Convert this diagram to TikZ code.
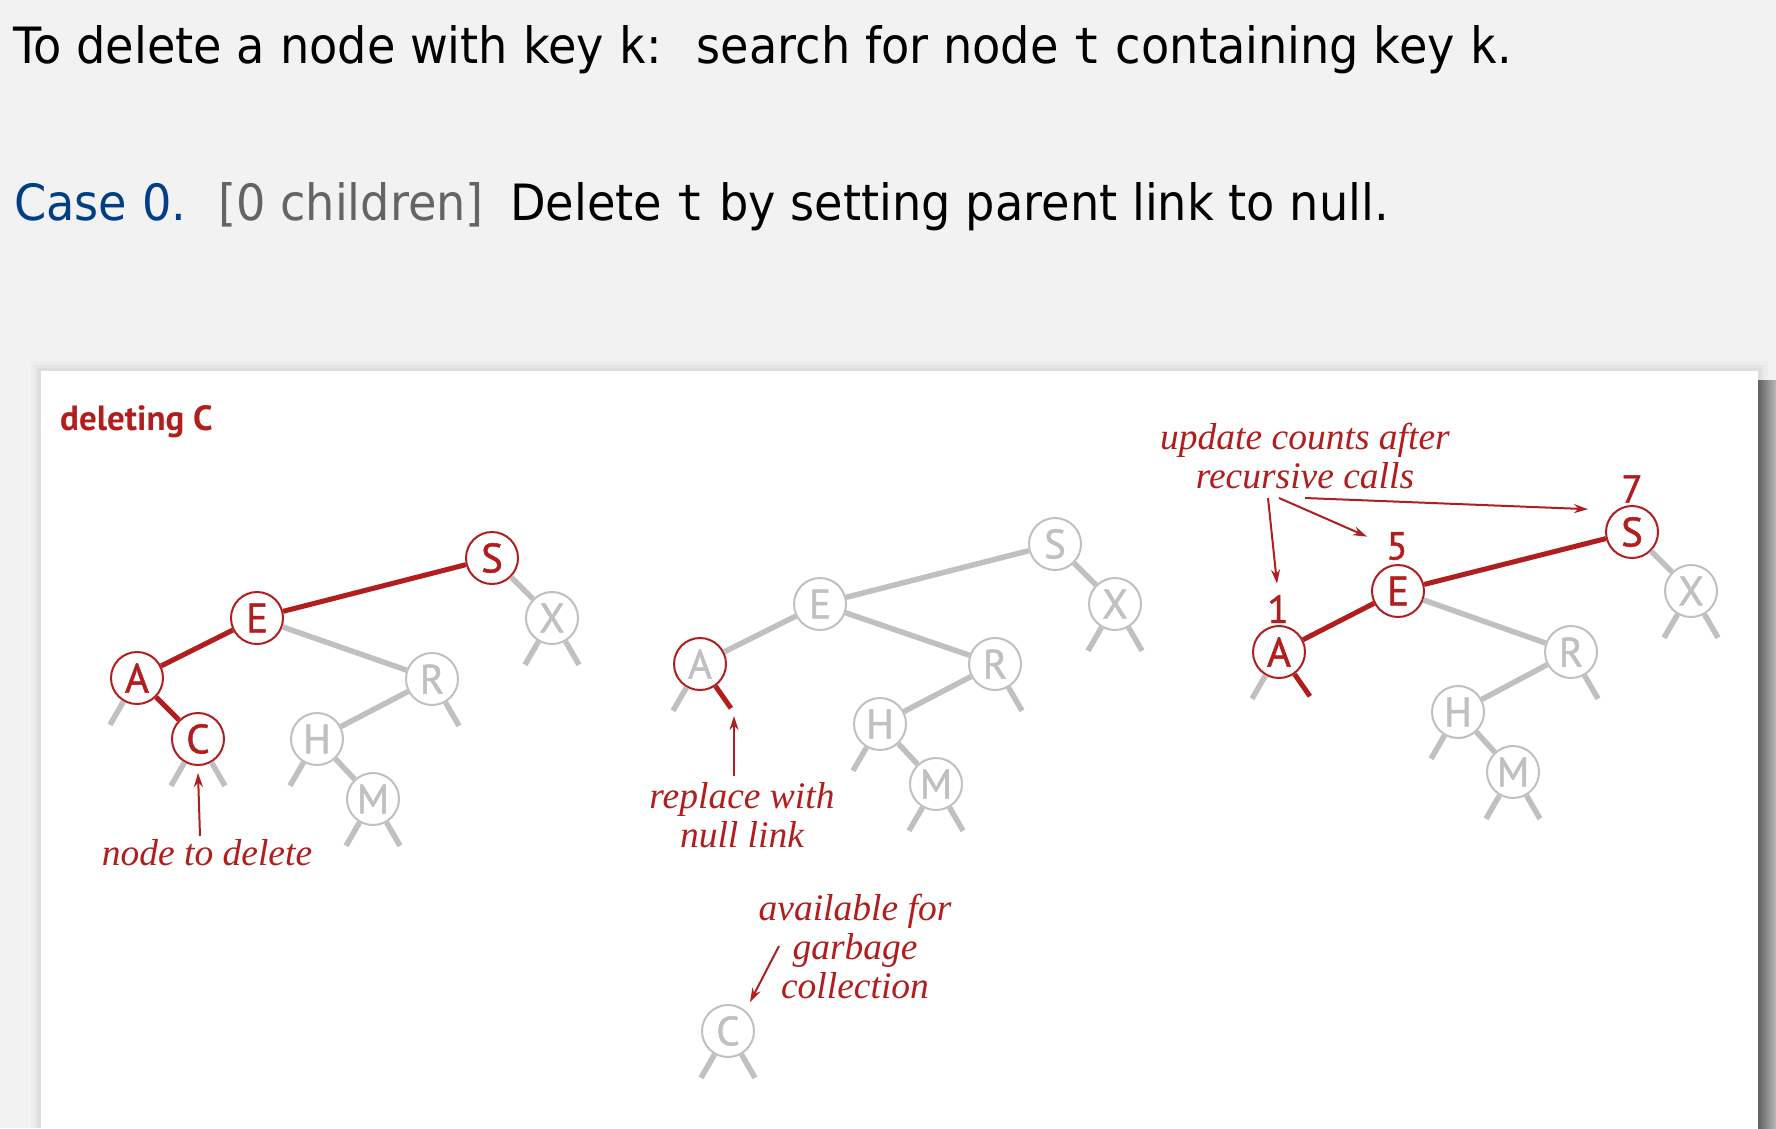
\documentclass[tikz,border=0pt]{standalone}
\usepackage{fontspec}
\usetikzlibrary{arrows.meta,calc}
\newfontfamily\titlefont{DejaVu Sans}[FakeStretch=0.925]
\newfontfamily\titlemono{DejaVu Sans Mono}[FakeStretch=0.925]
\newfontfamily\nodefont{PT Sans}
\newfontfamily\nodeletter{PT Sans}[FakeBold=1.2]
\newfontfamily\annfont{Liberation Serif}
\definecolor{myred}{RGB}{178,30,30}
\definecolor{lgray}{RGB}{192,192,194}
\definecolor{casecol}{RGB}{0,62,135}
\definecolor{brgray}{RGB}{100,100,100}
\definecolor{bgcol}{RGB}{242,242,242}
\tikzset{
  tnode/.style={circle, draw=lgray, text=lgray, fill=white, line width=2pt, minimum size=52pt, inner sep=0pt,
    font=\nodeletter\fontsize{41}{41}\selectfont},
  rnode/.style={tnode, draw=myred, text=myred},
  rcirc/.style={tnode, draw=myred},
  gl/.style={lgray, line width=5.5pt},
  rl/.style={myred, line width=5pt},
  arr/.style={myred, line width=2pt, -{Stealth[length=14pt,width=9pt]}},
  ann/.style={text=myred, align=center, font=\annfont\itshape\fontsize{37.5}{39}\selectfont},
  cnt/.style={text=myred, font=\nodeletter\fontsize{39}{39}\selectfont},
  ttl/.style={anchor=base west, inner sep=0pt, font=\titlefont\fontsize{50}{60}\selectfont}
}
\newcommand{\mk}[1]{{\titlemono #1}}
\begin{document}
\begin{tikzpicture}[x=1pt,y=1pt]
\useasboundingbox (0,0) rectangle (1776,-1128);
\fill[bgcol] (0,0) rectangle (1776,-1128);
% panel shadow
\fill[black,opacity=0.02] (31,-361) rectangle (1768,-1128);
\fill[black,opacity=0.03] (35,-365) rectangle (1764,-1128);
\fill[black,opacity=0.03] (38,-368) rectangle (1761,-1128);
\shade[left color=black!62, right color=black!28] (1758,-380) rectangle (1776,-1128);
\fill[white] (41,-371) rectangle (1758,-1128);

% titles
\node[ttl] (t1) at (13,-63) {To delete a node with key \mk{k}:\hspace{0.3em} search for node \mk{t} containing key \mk{k}.};
\node[ttl, text=casecol] (c0) at (14,-220) {Case 0.};
\node[ttl, text=brgray] (c1) at (218,-220) {[0 children]};
\node[ttl] (c2) at (510,-220) {Delete \mk{t} by setting parent link to null.};

\node[anchor=base west, inner sep=0pt, text=myred, font=\nodefont\bfseries\fontsize{35}{35}\selectfont] (dc) at (60,-430) {deleting C};

% ---------- tree 1 ----------
\begin{scope}[shift={(492,-558)}]
\node[rnode] (aS) at (0,0) {S};
\node[rnode] (aE) at (-235,-60) {E};
\node[rnode] (aA) at (-355,-120) {A};
\node[rnode] (aC) at (-294,-181) {C};
\node[tnode] (aX) at (60,-60) {X};
\node[tnode] (aR) at (-60,-121) {R};
\node[tnode] (aH) at (-175,-181) {H};
\node[tnode] (aM) at (-119,-241) {M};
\end{scope}
\draw[gl] (aS) -- (aX);
\draw[gl] (aE) -- (aR);
\draw[gl] (aR) -- (aH);
\draw[gl] (aH) -- (aM);
\draw[rl] (aS) -- (aE);
\draw[rl] (aE) -- (aA);
\draw[rl] (aA) -- (aC);
\draw[gl] (aA.-120) -- ++(-120:27);
\draw[gl] (aC.-120) -- ++(-120:27);
\draw[gl] (aC.-60) -- ++(-60:27);
\draw[gl] (aX.-120) -- ++(-120:27);
\draw[gl] (aX.-60) -- ++(-60:27);
\draw[gl] (aR.-60) -- ++(-60:27);
\draw[gl] (aH.-120) -- ++(-120:27);
\draw[gl] (aM.-120) -- ++(-120:27);
\draw[gl] (aM.-60) -- ++(-60:27);
\node[ann] (ntd) at (207,-853) {node to delete};
\coordinate (ntdtail) at (200,-836);
\draw[arr] (ntdtail) -- ([yshift=-7pt]aC.south);

% ---------- tree 2 ----------
\begin{scope}[shift={(1055,-544)}]
\node[tnode] (bS) at (0,0) {S};
\node[tnode] (bE) at (-235,-60) {E};
\node[rcirc] (bA) at (-355,-120) {A};
\node[tnode] (bX) at (60,-60) {X};
\node[tnode] (bR) at (-60,-120) {R};
\node[tnode] (bH) at (-175,-180) {H};
\node[tnode] (bM) at (-119,-240) {M};
\end{scope}
\node[tnode] (bC) at (728,-1031) {C};
\draw[gl] (bS) -- (bX);
\draw[gl] (bS) -- (bE);
\draw[gl] (bE) -- (bA);
\draw[gl] (bE) -- (bR);
\draw[gl] (bR) -- (bH);
\draw[gl] (bH) -- (bM);
\draw[gl] (bA.-120) -- ++(-120:27);
\draw[rl] (bA.-55) -- ++(-55:27);
\draw[gl] (bX.-120) -- ++(-120:27);
\draw[gl] (bX.-60) -- ++(-60:27);
\draw[gl] (bR.-60) -- ++(-60:27);
\draw[gl] (bH.-120) -- ++(-120:27);
\draw[gl] (bM.-120) -- ++(-120:27);
\draw[gl] (bM.-60) -- ++(-60:27);
\draw[gl] (bC.-120) -- ++(-120:27);
\draw[gl] (bC.-60) -- ++(-60:27);
\node[ann] (rwn) at (742,-815) {replace with\\null link};
\coordinate (rwntail) at (734,-776);
\coordinate (rwntip) at (734,-716);
\draw[arr] (rwntail) -- (rwntip);
\node[ann] (afg) at (855,-946) {available for\\garbage\\collection};
\coordinate (afgtail) at (779,-946);
\draw[arr] (afgtail) -- ([shift={(22,29)}]bC.center);

% ---------- tree 3 ----------
\begin{scope}[shift={(1632,-532)}]
\node[rnode] (cS) at (0,0) {S};
\node[rnode] (cE) at (-234,-59) {E};
\node[rnode] (cA) at (-353,-120) {A};
\node[tnode] (cX) at (59,-59) {X};
\node[tnode] (cR) at (-61,-120) {R};
\node[tnode] (cH) at (-174,-180) {H};
\node[tnode] (cM) at (-119,-240) {M};
\end{scope}
\draw[gl] (cS) -- (cX);
\draw[gl] (cE) -- (cR);
\draw[gl] (cR) -- (cH);
\draw[gl] (cH) -- (cM);
\draw[rl] (cS) -- (cE);
\draw[rl] (cE) -- (cA);
\draw[gl] (cA.-120) -- ++(-120:27);
\draw[rl] (cA.-55) -- ++(-55:27);
\draw[gl] (cX.-120) -- ++(-120:27);
\draw[gl] (cX.-60) -- ++(-60:27);
\draw[gl] (cR.-60) -- ++(-60:27);
\draw[gl] (cH.-120) -- ++(-120:27);
\draw[gl] (cM.-120) -- ++(-120:27);
\draw[gl] (cM.-60) -- ++(-60:27);
\node[cnt] (n1) at (1278,-609) {1};
\node[cnt] (n5) at (1397,-546) {5};
\node[cnt] (n7) at (1632,-489) {7};
\node[ann] (upd) at (1305,-456) {update counts after\\recursive calls};
\coordinate (ut1) at (1268,-498);
\coordinate (ut2) at (1279,-498);
\coordinate (ut3) at (1305,-498);
\draw[arr] (ut1) -- ([xshift=-1pt,yshift=8pt]n1.north);
\draw[arr] (ut2) -- ([xshift=-30pt,yshift=-8pt]n5.north);
\draw[arr] (ut3) -- ([xshift=-44pt,yshift=-3pt]n7.south);
\end{tikzpicture}
\end{document}
